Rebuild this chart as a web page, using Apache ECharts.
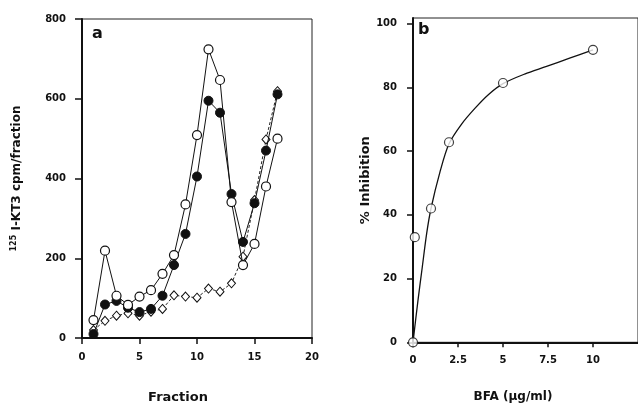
<!DOCTYPE html>
<html>
<head>
<meta charset="utf-8">
<script src="https://cdn.jsdelivr.net/npm/echarts@6/dist/echarts.min.js"></script>
<style>
  html, body { margin: 0; padding: 0; background: #fff; }
  #main { width: 638px; height: 405px; }
</style>
</head>
<body>
<div id="main"></div>
<script>
// panel a: fractions
var fractions = [1, 2, 3, 4, 5, 6, 7, 8, 9, 10, 11, 12, 13, 14, 15, 16, 17];
var openCircle = [45, 219, 106, 83, 104, 120, 161, 208, 335, 509, 724, 647, 341, 183, 236, 380, 500];
var filledCircle = [10, 84, 93, 76, 65, 73, 106, 183, 261, 405, 595, 565, 361, 241, 338, 470, 611];
var diamonds = [20, 43, 56, 62, 56, 66, 73, 107, 104, 101, 124, 116, 137, 204, 346, 498, 619];
var fractionTicks = [0, 5, 10, 15, 20];
var cpmTicks = [0, 200, 400, 600, 800];

// panel b: BFA dose
var bfaDose = [0, 0.1, 1, 2, 5, 10];
var inhibition = [0, 33, 42, 62.8, 81.4, 91.8];
// fitted curve
var curveDose = [0, 0.28, 0.52, 0.76, 1, 1.5, 2, 2.7, 3.45, 4.2, 5, 6.2, 7.42, 8.7, 10];
var curveInh = [0, 13.3, 23.8, 34.2, 42, 53.5, 62.3, 68.5, 73.5, 77.8, 81.2, 84.2, 86.6, 89.2, 91.8];
var bfaTicks = [0, 2.5, 5, 7.5, 10];
var inhTicks = [0, 20, 40, 60, 80, 100];

function pairs(xs, ys) {
  return xs.map(function (x, i) { return [x, ys[i]]; });
}

var myChart = echarts.init(document.getElementById('main'));
var font = 'DejaVu Sans, sans-serif';
var lbl = { color: '#111', fontFamily: font, fontWeight: 'bold', fontSize: 10 };
var axisLine = { onZero: false, lineStyle: { color: '#111', width: 2 } };

option = {
  animation: false,
  backgroundColor: '#fff',
  grid: [
    { left: 82, top: 19, width: 230, height: 319, show: true, borderColor: '#222', borderWidth: 1, backgroundColor: 'transparent' },
    { left: 413, top: 18, width: 241.6, height: 324.3, show: true, borderColor: '#222', borderWidth: 1, backgroundColor: 'transparent' }
  ],
  xAxis: [
    {
      gridIndex: 0, type: 'value', min: 0, max: 20, interval: 5,
      splitLine: { show: false },
      axisLine: axisLine,
      axisTick: { length: 6, lineStyle: { color: '#111', width: 1.5 }, customValues: fractionTicks },
      axisLabel: Object.assign({ margin: 14, customValues: fractionTicks }, lbl)
    },
    {
      gridIndex: 1, type: 'value', min: 0, max: 12.5,
      splitLine: { show: false },
      axisLine: axisLine,
      axisTick: { length: 5, lineStyle: { color: '#111', width: 1.5 }, customValues: bfaTicks },
      axisLabel: Object.assign({ margin: 13, customValues: bfaTicks }, lbl)
    }
  ],
  yAxis: [
    {
      gridIndex: 0, type: 'value', min: 0, max: 800, interval: 200,
      splitLine: { show: false },
      axisLine: axisLine,
      axisTick: { length: 7, lineStyle: { color: '#111', width: 1.5 }, customValues: cpmTicks },
      axisLabel: Object.assign({ margin: 16, customValues: cpmTicks }, lbl),
      name: '{sup|125} I-KT3 cpm/fraction',
      nameLocation: 'middle',
      nameGap: 59,
      nameTextStyle: {
        color: '#111', fontFamily: font, fontWeight: 'bold', fontSize: 12,
        rich: { sup: { fontSize: 8, fontWeight: 'bold', fontFamily: font, color: '#111', verticalAlign: 'top', padding: [0, 0, 5, 0] } }
      }
    },
    {
      gridIndex: 1, type: 'value', min: 0, max: 101.8,
      splitLine: { show: false },
      axisLine: axisLine,
      axisTick: { length: 6, lineStyle: { color: '#111', width: 1.5 }, customValues: inhTicks },
      axisLabel: Object.assign({ margin: 16, customValues: inhTicks }, lbl),
      name: '% Inhibition',
      nameLocation: 'middle',
      nameGap: 41,
      nameTextStyle: { color: '#111', fontFamily: font, fontWeight: 'bold', fontSize: 13 }
    }
  ],
  graphic: [
    { type: 'text', left: 92, top: 26, style: { text: 'a', font: 'bold 16px ' + font, fill: '#111' } },
    { type: 'text', left: 418, top: 22, style: { text: 'b', font: 'bold 16px ' + font, fill: '#111' } },
    { type: 'text', x: 178, y: 398, style: { text: 'Fraction', font: 'bold 13px ' + font, fill: '#111', align: 'center', verticalAlign: 'middle' } },
    { type: 'text', x: 513, y: 397, style: { text: 'BFA (μg/ml)', font: 'bold 12px ' + font, fill: '#111', align: 'center', verticalAlign: 'middle' } }
  ],
  series: [
    {
      name: 'diamond', type: 'line', xAxisIndex: 0, yAxisIndex: 0,
      data: pairs(fractions, diamonds),
      symbol: 'diamond', symbolSize: [8, 9],
      lineStyle: { color: '#222', width: 1, type: [3, 2] },
      itemStyle: { color: '#fff', borderColor: '#111', borderWidth: 1 },
      z: 2
    },
    {
      name: 'filled', type: 'line', xAxisIndex: 0, yAxisIndex: 0,
      data: pairs(fractions, filledCircle),
      symbol: 'circle', symbolSize: 9,
      lineStyle: { color: '#111', width: 1 },
      itemStyle: { color: '#111', borderColor: '#111', borderWidth: 1 },
      z: 3
    },
    {
      name: 'open', type: 'line', xAxisIndex: 0, yAxisIndex: 0,
      data: pairs(fractions, openCircle),
      symbol: 'circle', symbolSize: 9,
      lineStyle: { color: '#111', width: 1 },
      itemStyle: { color: '#fff', borderColor: '#111', borderWidth: 1.2 },
      z: 4
    },
    {
      name: 'fit', type: 'line', xAxisIndex: 1, yAxisIndex: 1,
      data: pairs(curveDose, curveInh),
      showSymbol: false, smooth: 0.3,
      lineStyle: { color: '#111', width: 1.3 },
      z: 2
    },
    {
      name: 'BFA', type: 'scatter', xAxisIndex: 1, yAxisIndex: 1,
      data: pairs(bfaDose, inhibition),
      symbol: 'circle', symbolSize: 9, clip: false,
      itemStyle: { color: '#fff', borderColor: '#111', borderWidth: 1.2 },
      z: 4
    }
  ]
};

myChart.setOption(option);
</script>
</body>
</html>
